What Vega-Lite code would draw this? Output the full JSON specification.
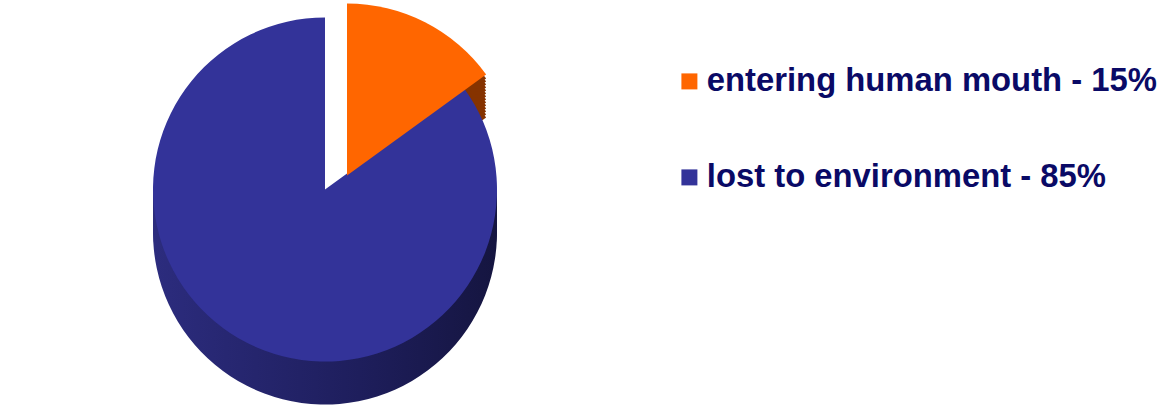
{
  "$schema": "https://vega.github.io/schema/vega-lite/v6.json",
  "width": 650,
  "height": 419,
  "padding": 0,
  "autosize": {"type": "pad"},
  "background": "white",
  "config": {"view": {"stroke": null}},
  "data": {
    "values": [
      {"label": "entering human mouth - 15%", "value": 15},
      {"label": "lost to environment - 85%", "value": 85}
    ]
  },
  "transform": [
    {"window": [{"op": "sum", "field": "value", "as": "end"}], "frame": [null, 0]},
    {"calculate": "datum.end - datum.value", "as": "start"}
  ],
  "encoding": {
    "theta": {"field": "start", "type": "quantitative", "scale": {"domain": [0, 100], "range": [0, 6.283185307]}},
    "theta2": {"field": "end"}
  },
  "layer": [
    {"transform": [{"filter": "datum.value == 85"}], "mark": {"type": "arc", "outerRadius": 172, "yOffset": 23, "color": {"gradient": "linear", "x1": 0, "x2": 1, "y1": 0, "y2": 0, "stops": [{"offset": 0, "color": "#2c2c7e"}, {"offset": 0.6, "color": "#1e1e5c"}, {"offset": 1, "color": "#151540"}]}}},
    {"transform": [{"filter": "datum.value == 85"}], "mark": {"type": "arc", "outerRadius": 172, "yOffset": 15, "color": {"gradient": "linear", "x1": 0, "x2": 1, "y1": 0, "y2": 0, "stops": [{"offset": 0, "color": "#2c2c7e"}, {"offset": 0.6, "color": "#1e1e5c"}, {"offset": 1, "color": "#151540"}]}}},
    {"transform": [{"filter": "datum.value == 85"}], "mark": {"type": "arc", "outerRadius": 172, "yOffset": 7, "color": {"gradient": "linear", "x1": 0, "x2": 1, "y1": 0, "y2": 0, "stops": [{"offset": 0, "color": "#2c2c7e"}, {"offset": 0.6, "color": "#1e1e5c"}, {"offset": 1, "color": "#151540"}]}}},
    {"transform": [{"filter": "datum.value == 85"}], "mark": {"type": "arc", "outerRadius": 172, "yOffset": -1, "color": {"gradient": "linear", "x1": 0, "x2": 1, "y1": 0, "y2": 0, "stops": [{"offset": 0, "color": "#2c2c7e"}, {"offset": 0.6, "color": "#1e1e5c"}, {"offset": 1, "color": "#151540"}]}}},
    {"transform": [{"filter": "datum.value == 85"}], "mark": {"type": "arc", "outerRadius": 172, "yOffset": -9, "color": {"gradient": "linear", "x1": 0, "x2": 1, "y1": 0, "y2": 0, "stops": [{"offset": 0, "color": "#2c2c7e"}, {"offset": 0.6, "color": "#1e1e5c"}, {"offset": 1, "color": "#151540"}]}}},
    {"transform": [{"filter": "datum.value == 15"}], "mark": {"type": "arc", "outerRadius": 172, "xOffset": 22, "yOffset": 9, "color": "#863300"}},
    {"transform": [{"filter": "datum.value == 15"}], "mark": {"type": "arc", "outerRadius": 172, "xOffset": 22, "yOffset": 6, "color": "#863300"}},
    {"transform": [{"filter": "datum.value == 15"}], "mark": {"type": "arc", "outerRadius": 172, "xOffset": 22, "yOffset": 3, "color": "#863300"}},
    {"transform": [{"filter": "datum.value == 15"}], "mark": {"type": "arc", "outerRadius": 172, "xOffset": 22, "yOffset": 0, "color": "#863300"}},
    {"transform": [{"filter": "datum.value == 15"}], "mark": {"type": "arc", "outerRadius": 172, "xOffset": 22, "yOffset": -3, "color": "#863300"}},
    {"transform": [{"filter": "datum.value == 15"}], "mark": {"type": "arc", "outerRadius": 172, "xOffset": 22, "yOffset": -6, "color": "#863300"}},
    {"transform": [{"filter": "datum.value == 15"}], "mark": {"type": "arc", "outerRadius": 172, "xOffset": 22, "yOffset": -9, "color": "#863300"}},
    {"transform": [{"filter": "datum.value == 15"}], "mark": {"type": "arc", "outerRadius": 172, "xOffset": 22, "yOffset": -12, "color": "#863300"}},
    {"transform": [{"filter": "datum.value == 15"}], "mark": {"type": "arc", "outerRadius": 172, "xOffset": 22, "yOffset": -15, "color": "#863300"}},
    {"transform": [{"filter": "datum.value == 15"}], "mark": {"type": "arc", "outerRadius": 172, "xOffset": 22, "yOffset": -18, "color": "#863300"}},
    {"transform": [{"filter": "datum.value == 15"}], "mark": {"type": "arc", "outerRadius": 172, "xOffset": 22, "yOffset": -21, "color": "#863300"}},
    {"transform": [{"filter": "datum.value == 15"}], "mark": {"type": "arc", "outerRadius": 172, "xOffset": 22, "yOffset": -24, "color": "#863300"}},
    {"transform": [{"filter": "datum.value == 15"}], "mark": {"type": "arc", "outerRadius": 172, "xOffset": 22, "yOffset": -27, "color": "#863300"}},
    {"transform": [{"filter": "datum.value == 15"}], "mark": {"type": "arc", "outerRadius": 172, "xOffset": 22, "yOffset": -30, "color": "#863300"}},
    {"transform": [{"filter": "datum.value == 85"}], "mark": {"type": "arc", "outerRadius": 172, "yOffset": -20},
     "encoding": {"color": {"field": "label", "type": "nominal", "scale": {"domain": ["entering human mouth - 15%", "lost to environment - 85%"], "range": ["#FF6600", "#333399"]},
       "legend": {"title": null, "orient": "none", "legendX": 673, "legendY": 65, "padding": 0, "symbolType": "square", "symbolSize": 256, "symbolStrokeWidth": 0, "labelFont": "Liberation Sans", "labelFontWeight": "bold", "labelFontSize": 32.8, "labelColor": "#0a0a66", "labelOffset": 1, "rowPadding": 62, "labelLimit": 600}}}},
    {"transform": [{"filter": "datum.value == 15"}], "mark": {"type": "arc", "outerRadius": 172, "xOffset": 22, "yOffset": -34},
     "encoding": {"color": {"field": "label", "type": "nominal"}}}
  ]
}
